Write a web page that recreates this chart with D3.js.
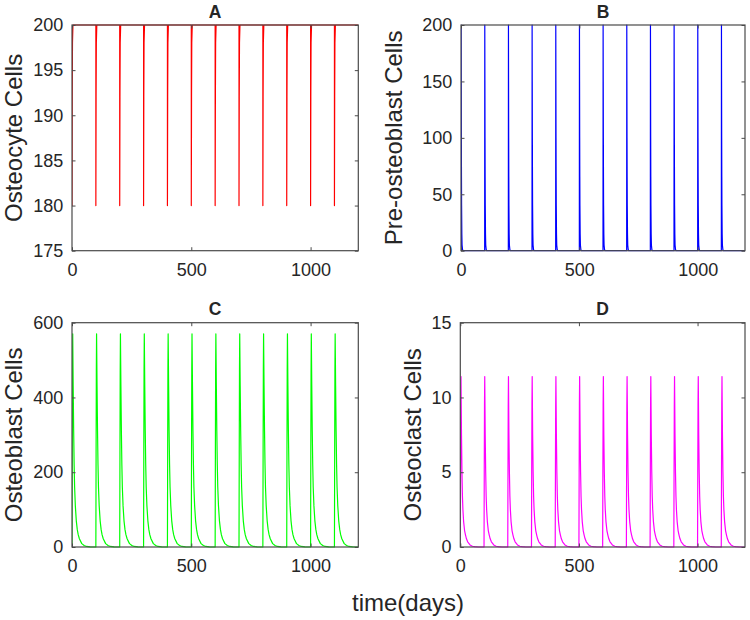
<!DOCTYPE html>
<html>
<head>
<meta charset="utf-8">
<script src="https://cdn.jsdelivr.net/npm/d3@7"></script>
<style>
  html, body { margin: 0; padding: 0; background: #fff; }
  svg { display: block; }
  text { font-family: "Liberation Sans", Arial, Helvetica, sans-serif; fill: #262626; }
</style>
</head>
<body>
<svg id="chart" width="750" height="620"></svg>
<script>
// ---------------- DATA ----------------
// Days at which each impulse is applied
const pulseDays = [0, 100, 200, 300, 400, 500, 600, 700, 800, 900, 1000, 1100];

// A: Osteocyte cells over one 100-day cycle (days after pulse, value)
const osteocyteOffsets = [0, 0, 1, 2, 4, 100];
const osteocyteCycle   = [200, 180, 192, 198, 200, 200];

// B: Pre-osteoblast cells over one cycle
const preOsteoblastOffsets = [0, 0.5, 1, 1.5, 2, 2.5, 3.5, 4.5, 6.5, 8.5, 100];
const preOsteoblastCycle   = [0, 200, 150, 100, 65, 40, 15, 5, 1, 0, 0];

// C: Osteoblast cells over one cycle
const osteoblastOffsets = [0, 1, 2, 3, 5, 7, 9, 11, 14, 18, 22, 26, 31, 41, 51, 61, 76, 100];
const osteoblastCycle   = [0, 250, 470, 570, 430, 310, 220, 160, 110, 70, 47, 33, 22, 9, 4, 1.5, 0.4, 0];

// D: Osteoclast cells over one cycle
const osteoclastOffsets = [0, 1, 2, 3, 5, 7, 9, 11, 14, 18, 22, 26, 31, 41, 51, 61, 76, 100];
const osteoclastCycle   = [0, 5, 9.5, 11.4, 7.5, 5, 3.4, 2.5, 1.7, 1.1, 0.8, 0.55, 0.35, 0.14, 0.05, 0.02, 0, 0];

// Axis ticks
const xTicks = [0, 500, 1000];
const yTicksA = [175, 180, 185, 190, 195, 200];
const yTicksB = [0, 50, 100, 150, 200];
const yTicksC = [0, 200, 400, 600];
const yTicksD = [0, 5, 10, 15];

const titles = ["A", "B", "C", "D"];
const yLabels = ["Osteocyte Cells", "Pre-osteoblast Cells", "Osteoblast Cells", "Osteoclast Cells"];
const xLabel = "time(days)";

// ---------------- BUILD SERIES (place cycle shape at each pulse) ----------------
function buildSeries(offsets, cycle) {
  const pts = [];
  pulseDays.forEach(p => {
    offsets.forEach((o, i) => pts.push([p + o, cycle[i]]));
  });
  return pts;
}

const panels = [
  { title: titles[0], ylabel: yLabels[0], data: buildSeries(osteocyteOffsets, osteocyteCycle),
    yDomain: [175, 200], yTicks: yTicksA, color: "#ff0000",
    box: { l: 72, r: 358.3, t: 25, b: 250.7 }, labelX: 21.5, titleY: 17.5 },
  { title: titles[1], ylabel: yLabels[1], data: buildSeries(preOsteoblastOffsets, preOsteoblastCycle),
    yDomain: [0, 200], yTicks: yTicksB, color: "#0000ff",
    box: { l: 461, r: 745, t: 25, b: 250.7 }, labelX: 402, titleY: 18 },
  { title: titles[2], ylabel: yLabels[2], data: buildSeries(osteoblastOffsets, osteoblastCycle),
    yDomain: [0, 600], yTicks: yTicksC, color: "#00ff00",
    box: { l: 72, r: 358.3, t: 322.7, b: 547 }, labelX: 21.5, titleY: 314.5 },
  { title: titles[3], ylabel: yLabels[3], data: buildSeries(osteoclastOffsets, osteoclastCycle),
    yDomain: [0, 15], yTicks: yTicksD, color: "#ff00ff",
    box: { l: 460.3, r: 745, t: 322.7, b: 547 }, labelX: 421, titleY: 315 }
];

const svg = d3.select("#chart");
const axisColor = "#4a4a4a";

panels.forEach((p, idx) => {
  const bx = p.box;
  const x = d3.scaleLinear().domain([0, 1200]).range([bx.l, bx.r]);
  const y = d3.scaleLinear().domain(p.yDomain).range([bx.b, bx.t]);
  const g = svg.append("g");

  const clipId = "clip" + idx;
  svg.append("defs").append("clipPath").attr("id", clipId)
    .append("rect").attr("x", bx.l).attr("y", bx.t - 1)
    .attr("width", bx.r - bx.l).attr("height", bx.b - bx.t + 2);

  // line
  const line = d3.line().x(d => x(d[0])).y(d => y(d[1]));
  g.append("path").datum(p.data)
    .attr("clip-path", `url(#${clipId})`)
    .attr("fill", "none").attr("stroke", p.color)
    .attr("stroke-width", 1.2).attr("stroke-linejoin", "round")
    .attr("d", line);

  // axes
  const styleAxis = sel => {
    sel.select(".domain").remove();
    sel.selectAll(".tick line").attr("stroke", axisColor).attr("stroke-width", 1);
    sel.selectAll(".tick text").attr("fill", "#262626")
      .style("font-size", "18px").style("font-family", '"Liberation Sans", Arial, sans-serif');
  };
  g.append("g").attr("transform", `translate(0,${bx.b})`)
    .call(d3.axisBottom(x).tickValues(xTicks).tickFormat(d3.format("d"))
      .tickSizeInner(-3.5).tickSizeOuter(0).tickPadding(12.5))
    .call(styleAxis);
  g.append("g").attr("transform", `translate(0,${bx.t})`)
    .call(d3.axisTop(x).tickValues(xTicks).tickFormat("")
      .tickSizeInner(-3.5).tickSizeOuter(0))
    .call(styleAxis);
  g.append("g").attr("transform", `translate(${bx.l},0)`)
    .call(d3.axisLeft(y).tickValues(p.yTicks).tickFormat(d3.format("d"))
      .tickSizeInner(-3.5).tickSizeOuter(0).tickPadding(8.7))
    .call(styleAxis);
  g.append("g").attr("transform", `translate(${bx.r},0)`)
    .call(d3.axisRight(y).tickValues(p.yTicks).tickFormat("")
      .tickSizeInner(-3.5).tickSizeOuter(0))
    .call(styleAxis);

  // box
  g.append("rect").attr("x", bx.l).attr("y", bx.t)
    .attr("width", bx.r - bx.l).attr("height", bx.b - bx.t)
    .attr("fill", "none").attr("stroke", axisColor).attr("stroke-width", 1.2);

  // title
  g.append("text").attr("x", (bx.l + bx.r) / 2).attr("y", p.titleY)
    .attr("text-anchor", "middle").style("font-size", "17.5px").style("font-weight", "bold")
    .attr("fill", "#000").text(p.title);

  // y label
  g.append("text")
    .attr("transform", `translate(${p.labelX},${(bx.t + bx.b) / 2}) rotate(-90)`)
    .attr("text-anchor", "middle").style("font-size", "24px")
    .text(p.ylabel);
});

// shared x label
svg.append("text").attr("x", 408).attr("y", 611)
  .attr("text-anchor", "middle").style("font-size", "24px")
  .text(xLabel);
</script>
</body>
</html>
